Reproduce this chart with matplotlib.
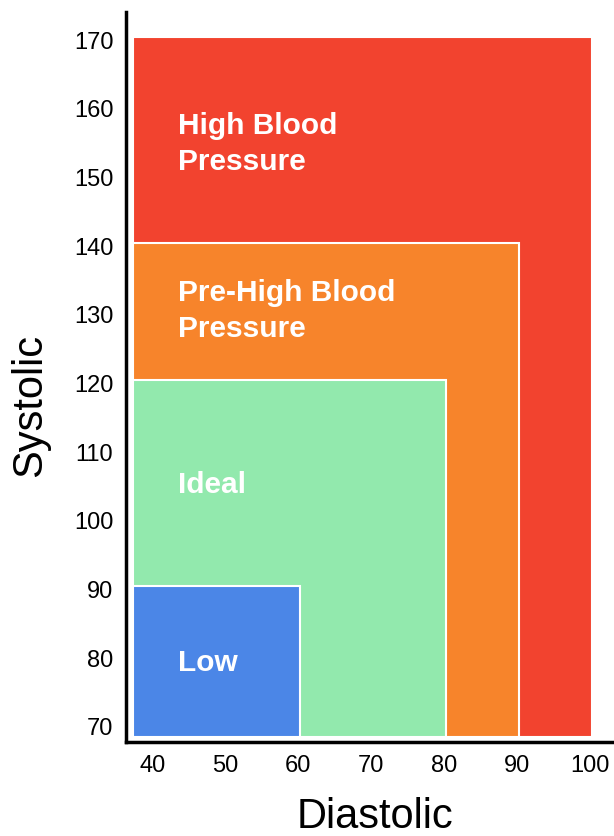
import matplotlib
matplotlib.use('Agg')
import matplotlib.pyplot as plt
import matplotlib.patches as patches

plt.rcParams['font.family'] = ['Liberation Sans', 'DejaVu Sans']

# zones, drawn largest first so smaller ones sit on top
zone_names = ['High Blood\nPressure', 'Pre-High Blood\nPressure', 'Ideal', 'Low']
diastolic_max = [100, 90, 80, 60]
systolic_max = [170, 140, 120, 90]
label_systolic = [154.9, 130.6, 105.2, 79.3]
zone_colors = ['#f2432f', '#f7842b', '#92e9ad', '#4b86e7']

x_ticks = [40, 50, 60, 70, 80, 90, 100]
y_ticks = [70, 80, 90, 100, 110, 120, 130, 140, 150, 160, 170]

fig = plt.figure(figsize=(6.14, 8.36), dpi=100)
ax = fig.add_axes([0.205, 0.1124, 0.795, 0.8732])

x0, y0 = 37.4, 68.5
for name, dmax, smax, ly, col in zip(zone_names, diastolic_max, systolic_max,
                                     label_systolic, zone_colors):
    rect = patches.Rectangle((x0, y0), dmax + 0.3 - x0, smax + 0.5 - y0,
                             fc=col, ec='white', lw=1.5)
    ax.add_patch(rect)
    ax.text(43.6, ly, name, color='white', fontsize=21.5, fontweight='bold',
            ha='left', va='center', linespacing=1.35)

ax.set_xlim(36.4, 103.3)
ax.set_ylim(67.8, 174.1)
ax.set_xticks(x_ticks)
ax.set_yticks(y_ticks)
ax.tick_params(length=0, labelsize=17)
ax.tick_params(axis='x', pad=9)
ax.tick_params(axis='y', pad=9)

for s in ['top', 'right']:
    ax.spines[s].set_visible(False)
for s in ['left', 'bottom']:
    ax.spines[s].set_linewidth(2.5)

fig.text(0.049, 0.515, 'Systolic', rotation=90, fontsize=30, ha='center', va='center')
fig.text(0.61, 0.023, 'Diastolic', fontsize=30, ha='center', va='center')

fig.savefig('out.png', dpi=100)
